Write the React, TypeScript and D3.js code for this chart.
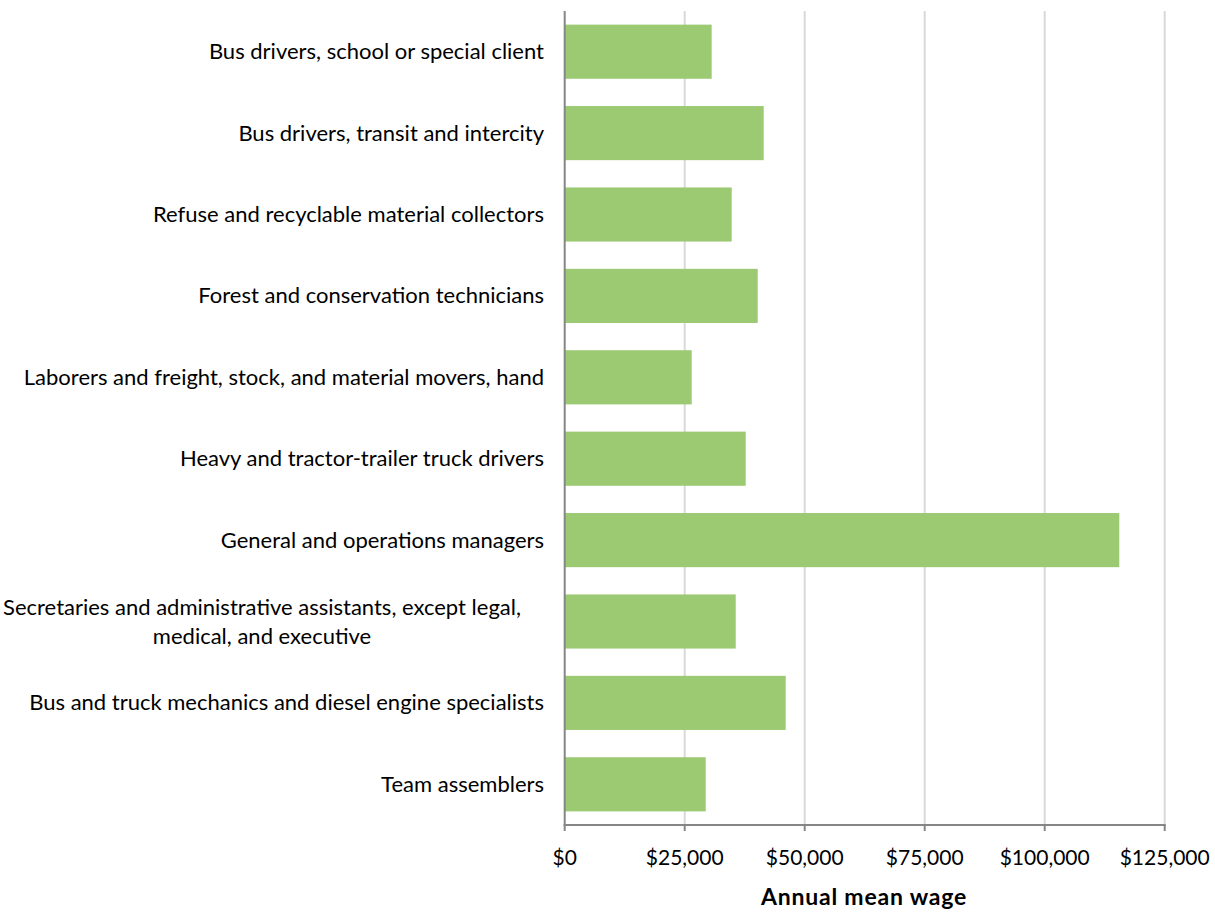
import React from "react";
import * as d3 from "d3";

const categories: string[][] = [
  ["Bus drivers, school or special client"],
  ["Bus drivers, transit and intercity"],
  ["Refuse and recyclable material collectors"],
  ["Forest and conservation  technicians"],
  ["Laborers and freight, stock, and material movers, hand"],
  ["Heavy and tractor-trailer truck drivers"],
  ["General and operations  managers"],
  ["Secretaries and administrative assistants, except legal,", "medical, and executive"],
  ["Bus and truck mechanics and diesel engine specialists"],
  ["Team assemblers"],
];
const wages: number[] = [30620, 41460, 34790, 40210, 26460, 37710, 115540, 35630, 46040, 29380];
const xTicks: number[] = [0, 25000, 50000, 75000, 100000, 125000];
const xTitle = "Annual mean wage";

const W = 1215;
const H = 912;
const left = 564.7;
const right = 1164.7;
const top = 11;
const bottom = 825;
const FONT = "Lato, 'Open Sans', sans-serif";

export default function App() {
  const x = d3.scaleLinear().domain([0, 125000]).range([left, right]);
  const idx = categories.map((_, i) => i);
  const y = d3
    .scaleBand<number>()
    .domain(idx)
    .range([top, bottom])
    .paddingInner(0.335)
    .paddingOuter(0.1675);
  const fmt = (v: number) => "$" + d3.format(",")(v);

  return (
    <svg
      width={W}
      height={H}
      style={{ position: "absolute", left: 0, top: 0, background: "#fff" }}
      fontFamily={FONT}
    >
      {xTicks.slice(1).map((t) => (
        <line key={"g" + t} x1={x(t)} x2={x(t)} y1={top} y2={bottom} stroke="#d9d9d9" strokeWidth={2} />
      ))}
      {idx.map((i) => (
        <rect
          key={"b" + i}
          x={x(0)}
          y={y(i)!}
          width={x(wages[i]) - x(0)}
          height={y.bandwidth()}
          fill="#9bca72"
        />
      ))}
      <line x1={left} x2={left} y1={top} y2={bottom + 1} stroke="#868686" strokeWidth={2} />
      <line x1={left - 1} x2={right + 1} y1={bottom} y2={bottom} stroke="#868686" strokeWidth={2} />
      {xTicks.map((t) => (
        <line key={"t" + t} x1={x(t)} x2={x(t)} y1={bottom} y2={bottom + 6} stroke="#868686" strokeWidth={2} />
      ))}
      {xTicks.map((t) => (
        <text key={"l" + t} x={x(t)} y={856} textAnchor="middle" dominantBaseline="central" fontSize={21} fill="#000">
          {fmt(t)}
        </text>
      ))}
      {idx.map((i) => {
        const lines = categories[i];
        const cy = y(i)! + y.bandwidth() / 2;
        const lh = 29;
        return (
          <text key={"c" + i} x={544} textAnchor="end" fontSize={22} fill="#000">
            {lines.map((ln, k) => (
              <tspan
                key={k}
                x={lines.length > 1 ? 262 : 544}
                textAnchor={lines.length > 1 ? "middle" : "end"}
                y={cy - 1 + (k - (lines.length - 1) / 2) * lh}
                dominantBaseline="central"
              >
                {ln}
              </tspan>
            ))}
          </text>
        );
      })}
      <text
        x={864}
        y={896}
        textAnchor="middle"
        dominantBaseline="central"
        fontSize={23}
        letterSpacing={0.8}
        fontWeight="bold"
        fill="#000"
      >
        {xTitle}
      </text>
    </svg>
  );
}
